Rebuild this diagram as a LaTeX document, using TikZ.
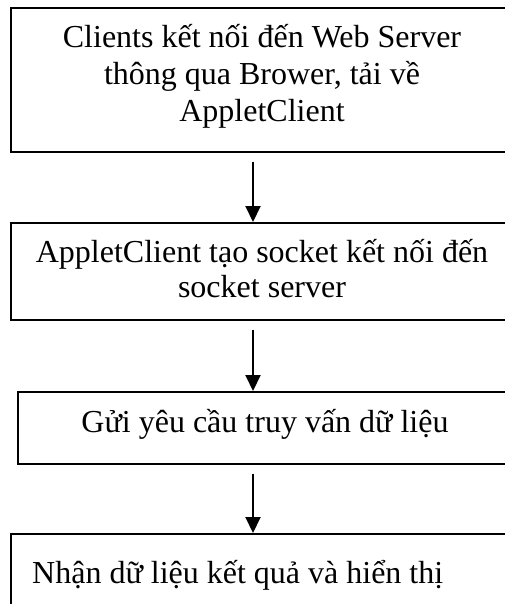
\documentclass[tikz,border=0pt]{standalone}
\usepackage{fontspec}
\setmainfont{Liberation Serif}
\usetikzlibrary{arrows.meta}

\tikzset{
  stepbox/.style={draw, line width=1.6pt, rectangle, inner sep=0pt, anchor=north west},
  steptext/.style={font=\fontsize{32}{37}\selectfont, inner sep=0pt, align=center},
  flow/.style={line width=2pt, shorten <=9pt,
    -{Triangle[width=15pt,length=16pt]}},
}

\begin{document}
\begin{tikzpicture}[x=1pt, y=-1pt]
  \useasboundingbox (0,0) rectangle (505,604);
  \fill[white] (0,0) rectangle (505,604);
  \clip (0,0) rectangle (505,604);

  % step boxes (they run past the right edge of the page)
  \node[stepbox, minimum width=504pt, minimum height=144pt] (b1) at (10,7) {};
  \node[stepbox, minimum width=504pt, minimum height=97pt]  (b2) at (10,222) {};
  \node[stepbox, minimum width=496pt, minimum height=72pt]  (b3) at (17,391) {};
  \node[stepbox, minimum width=504pt, minimum height=90pt]  (b4) at (10,533) {};

  % texts
  \node[steptext, anchor=base] (t1a) at (262,48)  {Clients kết nối đến Web Server};
  \node[steptext, anchor=base] (t1b) at (262,85)  {thông qua Brower, tải về};
  \node[steptext, anchor=base] (t1c) at (262,122) {AppletClient};
  \node[steptext, anchor=base] (t2a) at (262,262) {AppletClient tạo socket kết nối đến};
  \node[steptext, anchor=base] (t2b) at (262,297) {socket server};
  \node[steptext, anchor=base] (t3)  at (265,432) {Gửi yêu cầu truy vấn dữ liệu};
  \node[steptext, anchor=base west] (t4) at (32,583) {Nhận dữ liệu kết quả và hiển thị};

  % flow arrows
  \coordinate (axis) at (253,0);
  \draw[flow] (b1.south -| axis) -- (b2.north -| axis);
  \draw[flow] (b2.south -| axis) -- (b3.north -| axis);
  \draw[flow] (b3.south -| axis) -- (b4.north -| axis);
\end{tikzpicture}
\end{document}
